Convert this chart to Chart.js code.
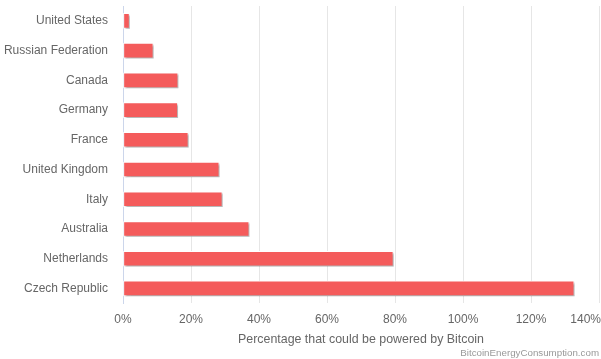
<!DOCTYPE html>
<html>
<head>
<meta charset="utf-8">
<script src="https://cdn.jsdelivr.net/npm/chart.js@4/dist/chart.umd.min.js"></script>
<style>
    html, body { margin: 0; padding: 0; background: #fff; }
    #wrap { width: 601px; height: 359px; }
</style>
</head>
<body>
<div id="wrap"><canvas id="chart" width="601" height="359"></canvas></div>
<script>
const countries = ['United States', 'Russian Federation', 'Canada', 'Germany', 'France',
    'United Kingdom', 'Italy', 'Australia', 'Netherlands', 'Czech Republic'];
const powered = [1.9, 8.9, 16.2, 16.1, 19.2, 28.3, 29.2, 37.1, 79.5, 132.7];
const xTicks = [0, 20, 40, 60, 80, 100, 120, 140];

const FONT = "'Liberation Sans', Arial, sans-serif";
const TEXT = '#666666';

// soft grey shadow behind the bars, like the original
const barShadow = {
    id: 'barShadow',
    beforeDatasetsDraw(chart) {
        const { ctx } = chart;
        ctx.save();
        ctx.shadowColor = 'rgba(0, 0, 0, 0.3)';
        ctx.shadowOffsetX = 2;
        ctx.shadowOffsetY = 2;
        ctx.shadowBlur = 2;
    },
    afterDatasetsDraw(chart) {
        chart.ctx.restore();
    },
};

new Chart(document.getElementById('chart'), {
    type: 'bar',
    data: {
        labels: countries,
        datasets: [{
            label: 'Percentage',
            data: powered,
            backgroundColor: '#f45b5b',
            borderColor: '#ffffff',
            borderWidth: 1,
            borderSkipped: false,
            barThickness: 15,
        }],
    },
    options: {
        indexAxis: 'y',
        responsive: false,
        animation: false,
        events: [],
        layout: { padding: { top: 6, right: 2, left: 0, bottom: 0 } },
        plugins: {
            legend: { display: false },
            tooltip: { enabled: false },
            title: {
                display: true,
                position: 'bottom',
                align: 'end',
                text: 'BitcoinEnergyConsumption.com',
                color: '#999999',
                font: { family: FONT, size: 9.75, weight: 'normal' },
                padding: { top: 0, bottom: 0 },
            },
        },
        scales: {
            x: {
                min: 0,
                max: 140,
                afterBuildTicks: (scale) => {
                    scale.ticks = xTicks.map((value) => ({ value }));
                },
                afterFit: (scale) => {
                    scale.paddingRight = 2;
                    scale.paddingLeft = 0;
                    scale.height = 44;
                },
                grid: { color: '#e6e6e6', drawTicks: false },
                border: { display: false },
                ticks: {
                    padding: 9,
                    color: TEXT,
                    font: { family: FONT, size: 12 },
                    // the last label sits inside the chart, as in the original
                    callback: (v) => (v === 140 ? v + '%        ' : v + '%'),
                },
                title: {
                    display: true,
                    text: 'Percentage that could be powered by Bitcoin',
                    color: TEXT,
                    font: { family: FONT, size: 12.4 },
                    padding: { top: 4, bottom: 0 },
                },
            },
            y: {
                afterFit: (scale) => {
                    scale.width = 123;
                    scale.paddingTop = 0;
                    scale.paddingBottom = 0;
                },
                grid: { display: false, drawTicks: false },
                border: { display: true, color: '#ccd6eb', width: 1 },
                ticks: {
                    padding: 15,
                    color: TEXT,
                    font: { family: FONT, size: 12 },
                },
            },
        },
    },
    plugins: [barShadow],
});
</script>
</body>
</html>
